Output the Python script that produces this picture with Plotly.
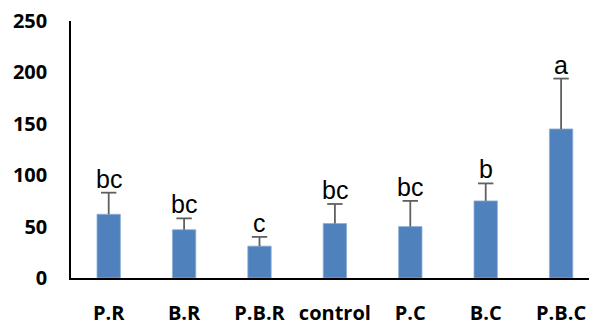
import plotly.graph_objects as go

categories = ["P.R", "B.R", "P.B.R", "control", "P.C", "B.C", "P.B.C"]
means = [62, 47, 31, 53, 50, 75, 145]
errors = [21, 11, 9, 19, 25, 17, 49]
letters = ["bc", "bc", "c", "bc", "bc", "b", "a"]
yticks = [0, 50, 100, 150, 200, 250]

tops = [m + e for m, e in zip(means, errors)]

fig = go.Figure()
fig.add_trace(go.Bar(
    x=categories, y=means, width=0.31,
    marker=dict(color="#4F81BD", line=dict(color="#8FB0D8", width=0.8)),
))

# upward-only error bars: stems + caps
ex, ey = [], []
for c, m, t in zip(categories, means, tops):
    ex += [c, c, None]
    ey += [m, t, None]
fig.add_trace(go.Scatter(x=ex, y=ey, mode="lines",
                         line=dict(color="#606060", width=1.8), hoverinfo="skip"))
fig.add_trace(go.Scatter(x=categories, y=tops, mode="markers",
                         marker=dict(symbol="line-ew", size=11,
                                     line=dict(color="#606060", width=1.8)),
                         hoverinfo="skip"))

for c, t, l in zip(categories, tops, letters):
    fig.add_annotation(x=c, y=t, text=l, showarrow=False,
                       yanchor="bottom", yshift=-2,
                       font=dict(family="Liberation Sans", size=25, color="black"))

fig.update_layout(
    width=589, height=326,
    margin=dict(l=71, r=0, t=21, b=42),
    paper_bgcolor="white", plot_bgcolor="white",
    showlegend=False,
    xaxis=dict(range=[-0.5, 6.37], showline=True, linecolor="black", linewidth=1.5,
               ticks="", showgrid=False, zeroline=False,
               tickfont=dict(family="Open Sans", size=20, color="black", weight="bold"),
               ticklabelstandoff=16),
    yaxis=dict(range=[0, 250], tickvals=yticks, showline=True, linecolor="black",
               linewidth=1.5, ticks="", showgrid=False, zeroline=False,
               tickfont=dict(family="Open Sans", size=20, color="black", weight="bold"),
               ticklabelstandoff=18),
)

fig.write_html("out.html")
